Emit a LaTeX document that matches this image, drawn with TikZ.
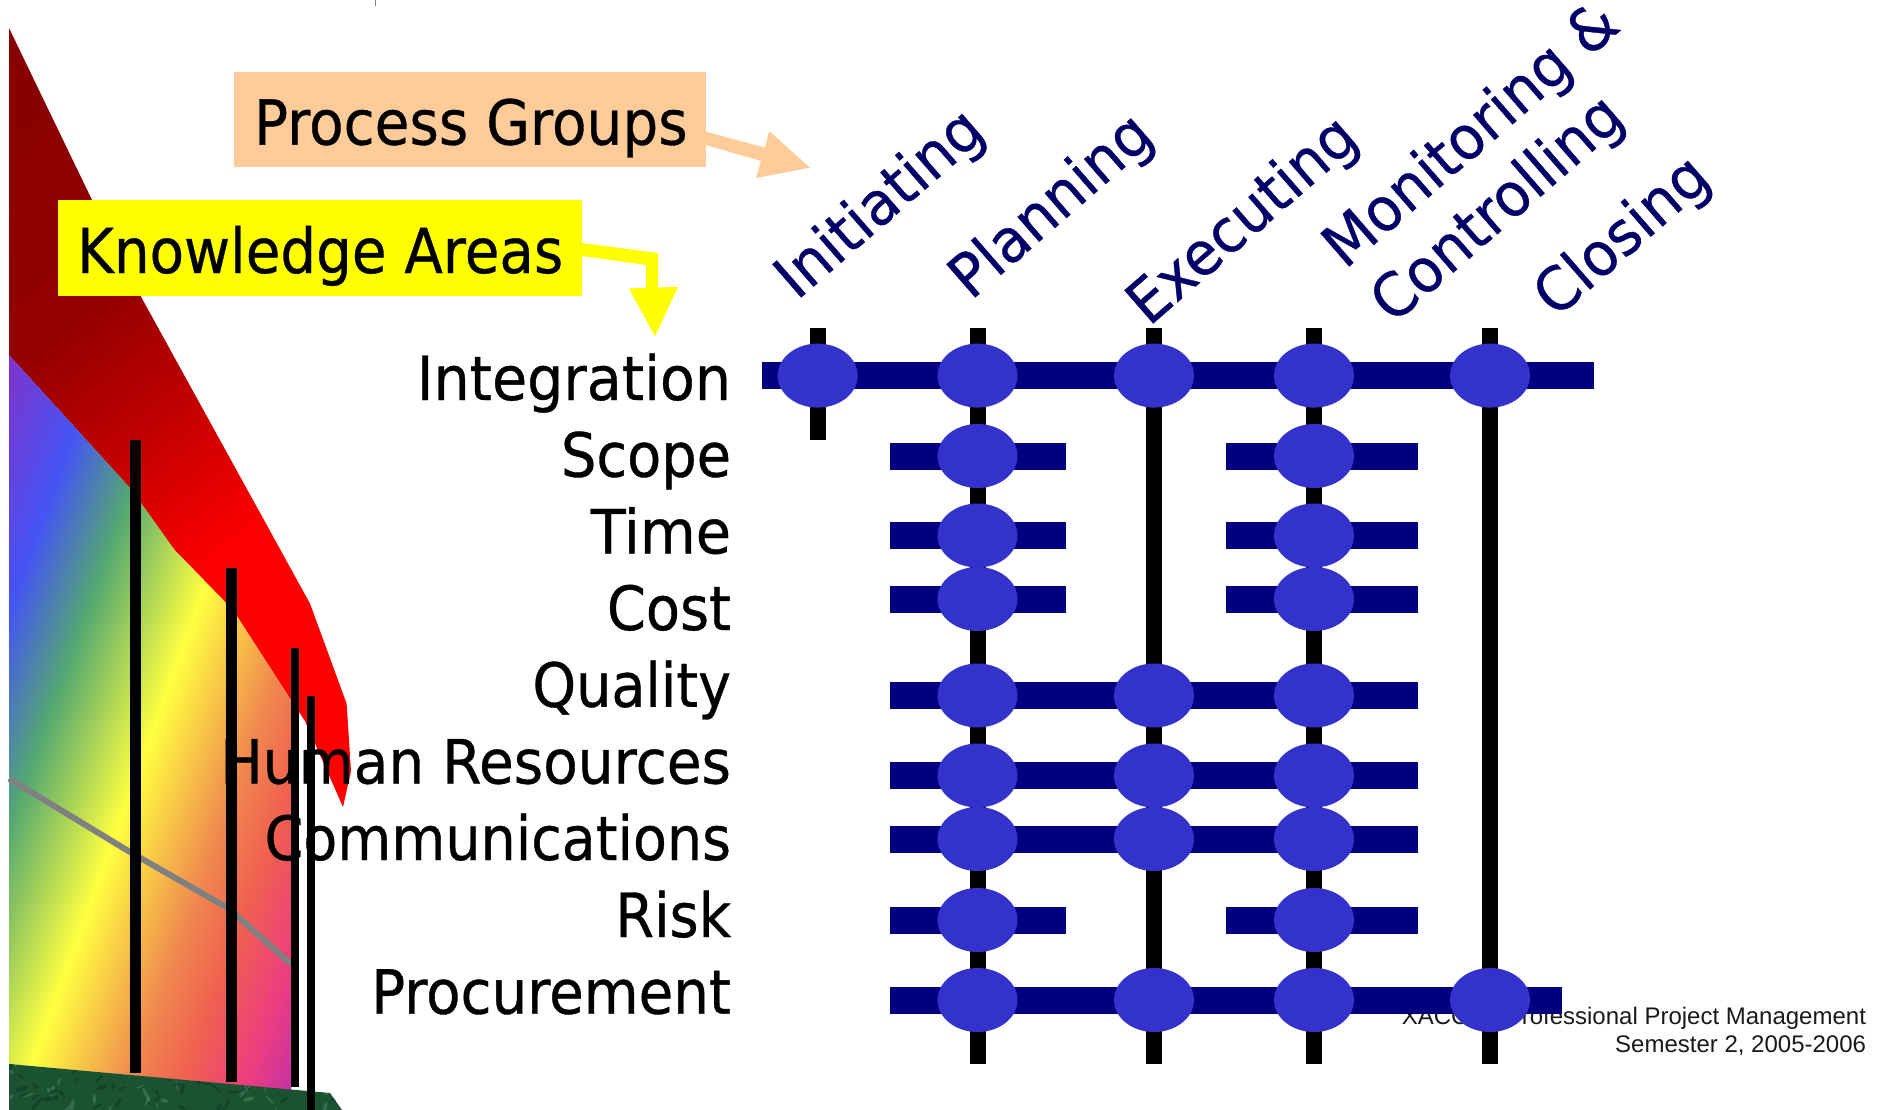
\documentclass[tikz,border=0pt]{standalone}
\usepackage{fontspec}
\usepackage{graphicx}
\setmainfont{DejaVu Sans}[FakeBold=0.6]
\newfontfamily\footfont{Liberation Sans}
\definecolor{pgroup}{HTML}{FFCC99}
\definecolor{karea}{HTML}{FFFF00}
\definecolor{barnavy}{HTML}{000080}
\definecolor{dotblue}{HTML}{3333CC}
\definecolor{titlenavy}{HTML}{000066}
\definecolor{marble}{HTML}{1A5232}
\definecolor{marblelight}{HTML}{5E9478}
\definecolor{marbledark}{HTML}{0E3D22}
\pgfdeclarehorizontalshading{rainfield}{2600pt}{rgb(0pt)=(.5,.19,.78); rgb(130pt)=(.5,.2,.8); rgb(216pt)=(.27,.33,.96); rgb(290pt)=(.33,.66,.44); rgb(392pt)=(1,1,.25); rgb(490pt)=(.94,.53,.31); rgb(540pt)=(.94,.38,.31); rgb(600pt)=(.93,.24,.5); rgb(650pt)=(.75,.19,.66); rgb(800pt)=(.75,.19,.66)}
\pgfdeclarehorizontalshading{redfield}{2600pt}{rgb(0pt)=(.52,0,0); rgb(300pt)=(.58,0,0); rgb(430pt)=(.75,0,0); rgb(580pt)=(1,0,0); rgb(1000pt)=(1,0,0)}
\tikzset{
  label/.style={inner sep=0,outer sep=0,anchor=base east,font=\fontsize{61}{61}\selectfont},
  titletext/.style={inner sep=0,outer sep=0,anchor=base west,rotate=41,text=titlenavy,font=\fontsize{60}{60}\selectfont},
  callout/.style={inner sep=0,outer sep=0,anchor=base west,font=\fontsize{62}{62}\selectfont},
  dotnode/.style={ellipse,fill=dotblue,minimum width=80pt,minimum height=64pt,inner sep=0},
  footer/.style={inner sep=0,outer sep=0,anchor=base east,font=\footfont\fontsize{24}{24}\selectfont,text=black!90}
}
\usetikzlibrary{shapes.geometric}
\begin{document}
\begin{tikzpicture}[x=1pt,y=-1pt]
\useasboundingbox (0,0) rectangle (1885,1110);
% small tick
\draw[gray,line width=1pt] (375.6,0) -- (375.6,6);
% red band
\begin{scope}
\clip (9,28) -- (92,200) -- (140.6,296) -- (286,560) -- (310,603.6) -- (346.6,703.6) -- (351,771) -- (343,807) -- (305,721) -- (291,700) -- (233,610) -- (174.5,550) -- (131,489) -- (9,355) -- cycle;
\node[inner sep=0,outer sep=0,anchor=west,rotate=-53.13] (redband) at (0,0) {\pgfuseshading{redfield}};
\end{scope}
% rainbow
\begin{scope}
\clip (9,355) -- (131,489) -- (174.5,550) -- (233,610) -- (291,700) -- (291,1090) -- (9,1064) -- cycle;
\node[inner sep=0,outer sep=0,anchor=west,rotate=-19.9] (rainbow) at (0,0) {\pgfuseshading{rainfield}};
\end{scope}
% marble
\begin{scope}
\clip (9,1064) -- (330,1093) -- (342,1110) -- (9,1110) -- cycle;
\fill[marble] (0,1050) rectangle (350,1110);
\pgfmathsetseed{7}
\foreach \i in {1,...,90}{
  \pgfmathsetmacro{\px}{9+rnd*330}
  \pgfmathsetmacro{\py}{1062+rnd*48}
  \pgfmathsetmacro{\rx}{2+rnd*6}
  \pgfmathsetmacro{\ry}{.6+rnd*1.5}
  \pgfmathsetmacro{\ang}{rnd*180}
  \pgfmathsetmacro{\pick}{rnd}
  \ifdim\pick pt<0.45pt
    \fill[marblelight,opacity=.4,rotate around={\ang:(\px,\py)}] (\px,\py) ellipse ({\rx} and {\ry});
  \else
    \fill[marbledark,opacity=.7,rotate around={\ang:(\px,\py)}] (\px,\py) ellipse ({\rx} and {\ry});
  \fi
}
\end{scope}
% grey line and posts
\draw[gray,line width=6pt] (9,778.6) -- (130,852) -- (226,907) -- (236,915) -- (291,964);
\fill[black] (130,440) rectangle (140.6,1073);
\fill[black] (226,568) rectangle (236.5,1082);
\fill[black] (291,647.5) rectangle (299,1087);
\fill[black] (307,696) rectangle (315,1110);
% callouts
\fill[pgroup] (706,131.7) -- (765,147.7) -- (769,131) -- (810,167.7) -- (756,178) -- (761,161) -- (706,145) -- cycle;
\fill[karea] (582,243) -- (658,253) -- (658,287.5) -- (678,287) -- (655,336.4) -- (629,288.6) -- (646,287.5) -- (646,265) -- (582,256) -- cycle;
\fill[pgroup] (234,72) rectangle (706,167.5);
\fill[karea] (58,200) rectangle (582,296);
\node[callout] (pg) at (254,144.6) {\scalebox{.911}[1]{Process Groups}};
\node[callout] (ka) at (77,273) {\scalebox{.908}[1]{Knowledge Areas}};
% knowledge areas
\node[label] (k1) at (731,400) {\scalebox{.935}[1]{Integration}};
\node[label] (k2) at (731,476.7) {\scalebox{.915}[1]{Scope}};
\node[label] (k3) at (731,553.4) {\scalebox{.94}[1]{Time}};
\node[label] (k4) at (731,630) {\scalebox{.915}[1]{Cost}};
\node[label] (k5) at (731,706.8) {\scalebox{.911}[1]{Quality}};
\node[label] (k6) at (731,783.5) {\scalebox{.927}[1]{Human Resources}};
\node[label] (k7) at (731,860) {\scalebox{.91}[1]{Communications}};
\node[label] (k8) at (731,937) {\scalebox{.915}[1]{Risk}};
\node[label] (k9) at (731,1013.7) {\scalebox{.923}[1]{Procurement}};
% process titles
\node[titletext] (p1) at (797,301) {\scalebox{.95}[1]{Initiating}};
\node[titletext] (p2) at (971,301) {\scalebox{.95}[1]{Planning}};
\node[titletext] (p3) at (1149,327) {\scalebox{.95}[1]{Executing}};
\node[titletext] (p4) at (1345,270) {\scalebox{.95}[1]{Monitoring \&}};
\node[titletext] (p5) at (1393,325) {\scalebox{.95}[1]{Controlling}};
\node[titletext] (p6) at (1556,319) {\scalebox{.95}[1]{Closing}};
% footer
\node[footer] (f1) at (1866,1024) {XACC00\hspace{4pt} Professional Project Management};
\node[footer] (f2) at (1866,1052) {Semester 2, 2005-2006};
% matrix: verticals
\fill[black] (810,328) rectangle (826,440);
\foreach \cx in {977.5,1154,1314,1490}{
  \fill[black] (\cx-8,328) rectangle (\cx+8,1064);
}
% matrix: bars
\fill[barnavy] (762,362) rectangle (1594,389);
\foreach \ry in {456,535.5,599,920}{
  \fill[barnavy] (890,\ry-13.5) rectangle (1066,\ry+13.5);
  \fill[barnavy] (1226,\ry-13.5) rectangle (1418,\ry+13.5);
}
\foreach \ry in {695.5,775.5,839}{
  \fill[barnavy] (890,\ry-13.5) rectangle (1418,\ry+13.5);
}
\fill[barnavy] (890,986.5) rectangle (1562,1013.5);
% matrix: dots
\foreach \ry/\cols in {375.6/{817.7,977.5,1154,1314,1490},456/{977.5,1314},535.5/{977.5,1314},599/{977.5,1314},695.5/{977.5,1154,1314},775.5/{977.5,1154,1314},839/{977.5,1154,1314},920/{977.5,1314},1000/{977.5,1154,1314,1490}}{
  \foreach \cx in \cols {
    \node[dotnode] at (\cx,\ry) {};
  }
}
\end{tikzpicture}
\end{document}
